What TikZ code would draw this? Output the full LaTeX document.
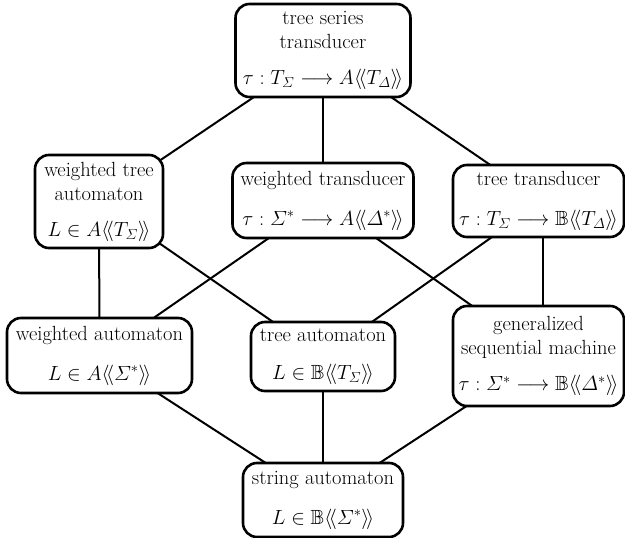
\documentclass[tikz,border=0pt]{standalone}
\usepackage{fix-cm}
\usepackage{amsmath,amssymb}
\usetikzlibrary{backgrounds}
\newcommand{\dlan}{\langle\!\langle}
\newcommand{\dran}{\rangle\!\rangle}
\tikzset{
  class/.style={draw, line width=2.6pt, rounded corners=14pt, fill=white,
    align=center, inner sep=0pt, font=\fontsize{20.5}{24}\selectfont},
  link/.style={line width=2pt}
}
\begin{document}
\begin{tikzpicture}[x=1pt,y=-1pt]
\useasboundingbox (0,0) rectangle (625,538);

% top level
\node[class, minimum width=175pt, minimum height=93pt] (tst) at (323,50.5)
  {tree series\\transducer\\[12pt]$\tau : T_{\varSigma} \longrightarrow A\dlan T_{\varDelta}\dran$};

% middle level
\node[class, minimum width=128pt, minimum height=93pt] (wta) at (99,201.5)
  {weighted tree\\automaton\\[12pt]$L \in A\dlan T_{\varSigma}\dran$};
\node[class, minimum width=181pt, minimum height=75pt] (wt) at (323,200.5)
  {weighted transducer\\[16pt]$\tau : \varSigma^{*} \longrightarrow A\dlan \varDelta^{*}\dran$};
\node[class, minimum width=171pt, minimum height=72pt] (tt) at (538.5,201)
  {tree transducer\\[16pt]$\tau : T_{\varSigma} \longrightarrow \mathbb{B}\dlan T_{\varDelta}\dran$};

% lower level
\node[class, minimum width=185pt, minimum height=75pt] (wa) at (99.5,355.5)
  {weighted automaton\\[16pt]$L \in A\dlan \varSigma^{*}\dran$};
\node[class, minimum width=144pt, minimum height=69pt] (ta) at (323,356.5)
  {tree automaton\\[14pt]$L \in \mathbb{B}\dlan T_{\varSigma}\dran$};
\node[class, minimum width=171pt, minimum height=100pt] (gsm) at (538.5,356)
  {generalized\\sequential machine\\[12pt]$\tau : \varSigma^{*} \longrightarrow \mathbb{B}\dlan \varDelta^{*}\dran$};

% bottom
\node[class, minimum width=160pt, minimum height=74pt] (sa) at (323,500)
  {string automaton\\[16pt]$L \in \mathbb{B}\dlan \varSigma^{*}\dran$};

% connectors run between the box centres, behind the filled boxes
\coordinate (ttc) at ([xshift=4.5pt]tt.center);
\coordinate (gsmc) at ([xshift=4.5pt]gsm.center);
\begin{scope}[on background layer]
  \draw[link] (tst.center) -- (wta.center);
  \draw[link] (tst.center) -- (wt.center);
  \draw[link] (tst.center) -- (ttc);
  \draw[link] (wta.center) -- (wa.center);
  \draw[link] (wta.center) -- (ta.center);
  \draw[link] (wt.center) -- (wa.center);
  \draw[link] (wt.center) -- (gsmc);
  \draw[link] (ttc) -- (ta.center);
  \draw[link] (ttc) -- (gsmc);
  \draw[link] (wa.center) -- (sa.center);
  \draw[link] (ta.center) -- (sa.center);
  \draw[link] (gsmc) -- (sa.center);
\end{scope}
\end{tikzpicture}
\end{document}
